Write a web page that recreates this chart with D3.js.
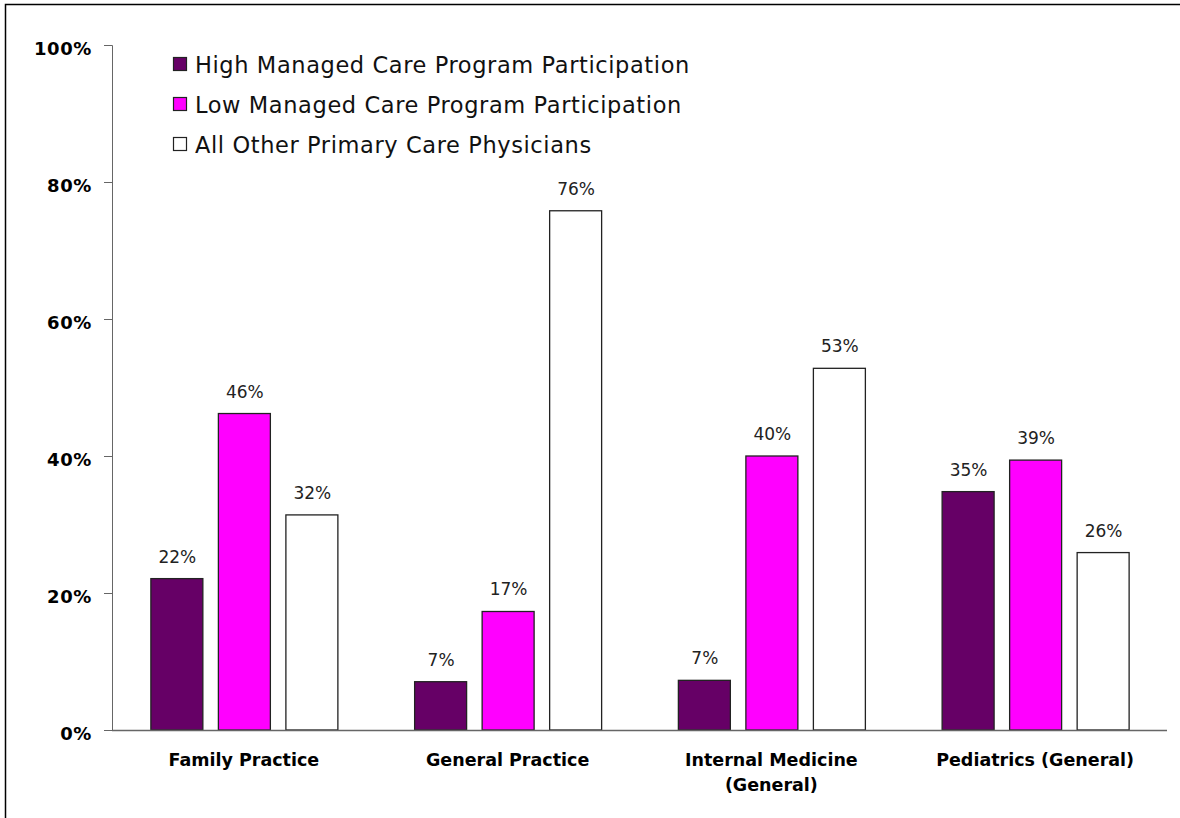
<!DOCTYPE html>
<html>
<head>
<meta charset="utf-8">
<script src="https://cdn.jsdelivr.net/npm/d3@7"></script>
<style>
  body { margin: 0; background: #fff; }
  svg { display: block; }
</style>
</head>
<body>
<svg id="chart" width="1180" height="818"></svg>
<script>
// Data
const categories = ["Family Practice", "General Practice", "Internal Medicine|(General)", "Pediatrics (General)"];
const seriesNames = [
    "High Managed Care Program Participation",
    "Low Managed Care Program Participation",
    "All Other Primary Care Physicians"
];
const highValues = [22.1, 7.05, 7.25, 34.8];
const lowValues = [46.2, 17.3, 40.0, 39.4];
const otherValues = [31.4, 75.8, 52.8, 25.9];
const valueLabels = [
    ["22%", "7%", "7%", "35%"],
    ["46%", "17%", "40%", "39%"],
    ["32%", "76%", "53%", "26%"]
];
const yTicks = [0, 20, 40, 60, 80, 100];

const colors = ["#660066", "#ff00ff", "#ffffff"];
const series = [highValues, lowValues, otherValues];
const font = "'DejaVu Sans', sans-serif";

const svg = d3.select("#chart");

// outer frame (only top and left edges show)
svg.append("path")
    .attr("d", "M5.5,818 V4.5 H1180")
    .attr("fill", "none")
    .attr("stroke", "#000")
    .attr("stroke-width", 1.5);

const plotLeft = 112, plotRight = 1167, plotTop = 45, plotBottom = 730;

const x0 = d3.scaleBand()
    .domain(categories)
    .range([plotLeft, plotRight])
    .paddingInner(0.291)
    .paddingOuter(0.1455);

const x1 = d3.scaleBand()
    .domain(d3.range(seriesNames.length))
    .range([0, x0.bandwidth()])
    .paddingInner(0.23);

const y = d3.scaleLinear().domain([0, 100]).range([plotBottom, plotTop]);

// y axis
const yAxis = svg.append("g")
    .attr("transform", `translate(${plotLeft},0)`)
    .call(d3.axisLeft(y).tickValues(yTicks).tickSize(8).tickPadding(12).tickFormat(d => d + "%"));
yAxis.select(".domain").attr("stroke", "#666");
yAxis.selectAll(".tick line").attr("stroke", "#666");
yAxis.selectAll("text")
    .attr("font-family", font)
    .attr("font-weight", "bold")
    .attr("font-size", 18)
    .attr("letter-spacing", 0.6)
    .attr("dy", "0.5em")
    .attr("fill", "#000");

// bars
categories.forEach((cat, ci) => {
    series.forEach((vals, si) => {
        const bx = x0(cat) + x1(si);
        svg.append("rect")
            .attr("x", bx + 0.5)
            .attr("y", y(vals[ci]))
            .attr("width", x1.bandwidth())
            .attr("height", y(0) - y(vals[ci]))
            .attr("fill", colors[si])
            .attr("stroke", "#222")
            .attr("stroke-width", 1.3);
        svg.append("text")
            .attr("x", bx + x1.bandwidth() / 2 + 1)
            .attr("y", y(vals[ci]) - 16)
            .attr("text-anchor", "middle")
            .attr("font-family", font)
            .attr("font-size", 17)
            .attr("fill", "#222")
            .text(valueLabels[si][ci]);
    });
});

// x axis line
svg.append("line")
    .attr("x1", plotLeft).attr("x2", plotRight)
    .attr("y1", plotBottom + 0.5).attr("y2", plotBottom + 0.5)
    .attr("stroke", "#666")
    .attr("stroke-width", 1.3);

// category labels
categories.forEach(cat => {
    const t = svg.append("text")
        .attr("x", x0(cat) + x0.bandwidth() / 2)
        .attr("y", 766)
        .attr("text-anchor", "middle")
        .attr("font-family", font)
        .attr("font-weight", "bold")
        .attr("font-size", 17.5)
        .attr("fill", "#000");
    cat.split("|").forEach((line, i) => {
        t.append("tspan")
            .attr("x", x0(cat) + x0.bandwidth() / 2)
            .attr("dy", i === 0 ? 0 : 25)
            .text(line);
    });
});

// legend
seriesNames.forEach((name, i) => {
    const ly = 65 + i * 40;
    svg.append("rect")
        .attr("x", 173.5).attr("y", ly - 7.5)
        .attr("width", 13).attr("height", 13)
        .attr("fill", colors[i])
        .attr("stroke", "#222")
        .attr("stroke-width", 1.2);
    svg.append("text")
        .attr("x", 195)
        .attr("y", ly + 8)
        .attr("font-family", font)
        .attr("font-size", 22.5)
        .attr("letter-spacing", 0.6)
        .attr("fill", "#111")
        .text(name);
});
</script>
</body>
</html>
